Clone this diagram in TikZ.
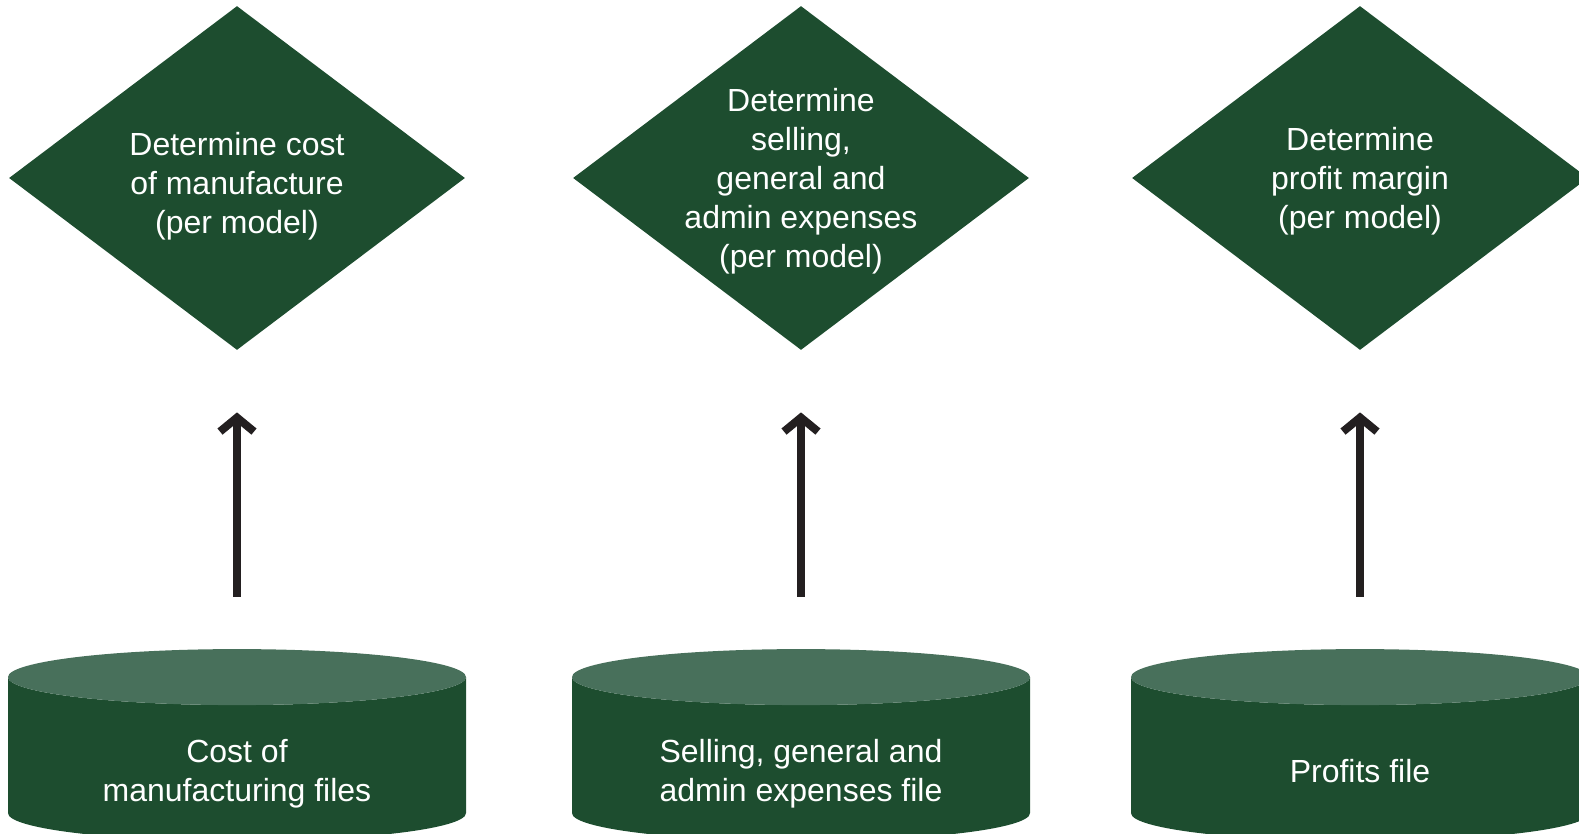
\documentclass[tikz,border=0pt]{standalone}
\usepackage{fontspec}
\setmainfont{Liberation Sans}
\usepackage{xcolor}
\usetikzlibrary{
	arrows.meta,
	shapes.geometric
}
\definecolor{deepgreen}{HTML}{1D4D2F}
\definecolor{lidgreen}{HTML}{48705B}
\definecolor{inkblack}{HTML}{231F20}

\begin{document}
\begin{tikzpicture}[x=0.5pt,y=-0.5pt]
		\useasboundingbox (0,0) rectangle (1579,834);
		\tikzset{
			caption/.style={text=white,align=center,
				font=\fontsize{16}{19.5}\selectfont},
			decision/.style={shape=diamond,fill=deepgreen,inner sep=0pt,
				minimum width=228pt,minimum height=172pt},
			datafile/.style={shape=cylinder,shape border rotate=90,aspect=1,
				cylinder uses custom fill,cylinder body fill=deepgreen,
				cylinder end fill=lidgreen,inner sep=14pt,
				minimum width=229pt,minimum height=96pt},
			feed/.style={draw=inkblack,line width=4pt,
				-{Straight Barb[length=7pt,width=17pt]},
				shorten <=26pt,shorten >=31pt}
		}

		\node[decision,label={[caption,yshift=-4pt]center:{Determine cost\\
			of manufacture\\(per model)}}] at (237, 178) (cost-check) {};
		\node[decision,label={[caption,yshift=-1.5pt]center:{Determine\\selling,\\
			general and\\admin expenses\\(per model)}}] at (801, 178) (sga-check) {};
		\node[decision,label={[caption,yshift=-1.5pt]center:{Determine\\
			profit margin\\(per model)}}] at (1360, 178) (profit-check) {};

		\node[datafile,label={[caption,yshift=-4pt]center:{Cost of\\
			manufacturing files}}] at (237, 766) (cost-file) {};
		\node[datafile,label={[caption,yshift=-4pt]center:{Selling, general and\\
			admin expenses file}}] at (801, 766) (sga-file) {};
		\node[datafile,label={[caption,yshift=-2.5pt]center:Profits file}]
			at (1360, 766) (profit-file) {};

		\draw[feed] (cost-file.north) -- (cost-check.south);
		\draw[feed] (sga-file.north) -- (sga-check.south);
		\draw[feed] (profit-file.north) -- (profit-check.south);
	\end{tikzpicture}
\end{document}
